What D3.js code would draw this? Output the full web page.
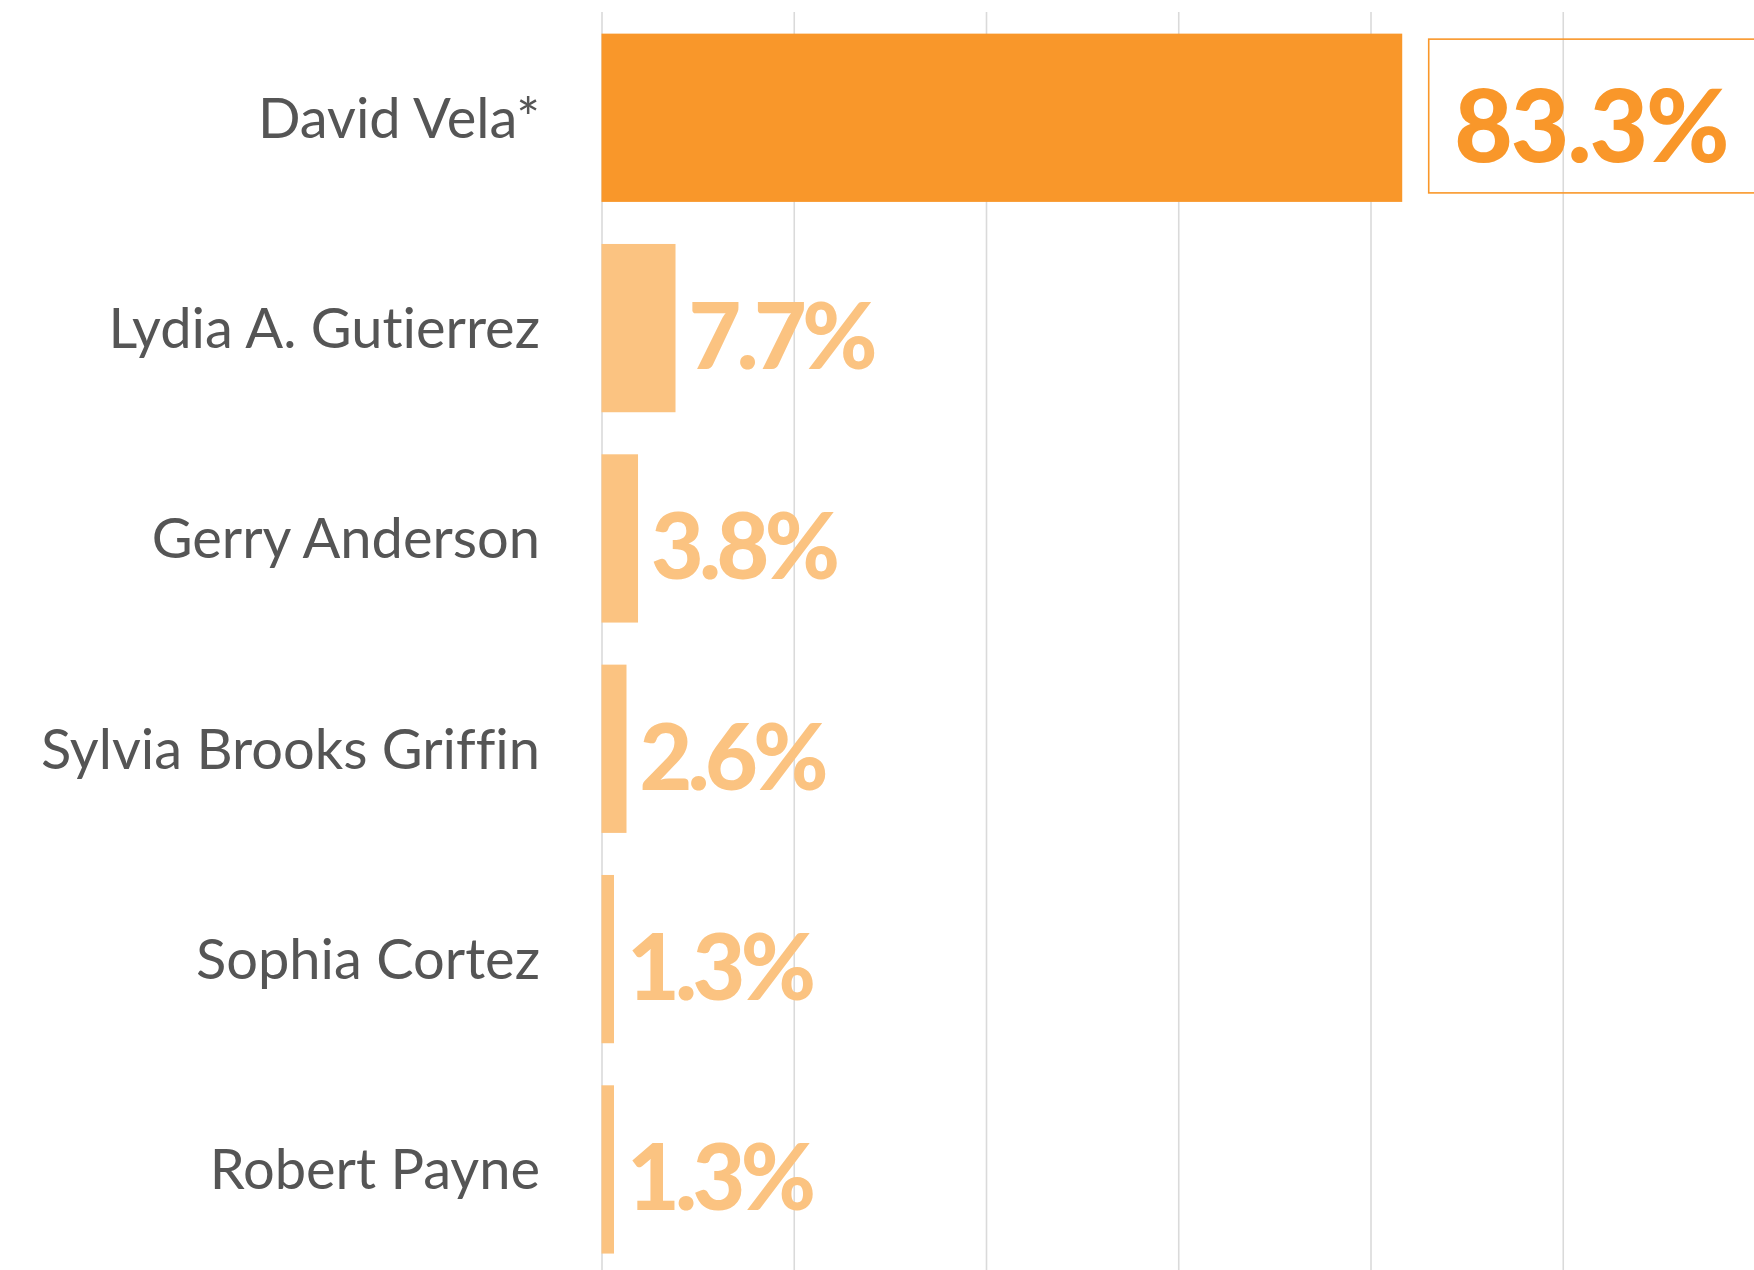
<!DOCTYPE html>
<html>
<head>
<meta charset="utf-8">
<script src="https://cdn.jsdelivr.net/npm/d3@7"></script>
<style>
  body { margin: 0; background: #fff; }
  svg { display: block; }
  .cat { font-family: Lato, "Open Sans", sans-serif; font-size: 56px; fill: #555; font-variant-ligatures: none; }
  .val { font-family: Lato, sans-serif; font-weight: 900; }
</style>
</head>
<body>
<svg id="chart" width="1754" height="1270"></svg>
<script>
// values
const candidates = ["David Vela*", "Lydia A. Gutierrez", "Gerry Anderson", "Sylvia Brooks Griffin", "Sophia Cortez", "Robert Payne"];
const shares = [83.3, 7.7, 3.8, 2.6, 1.3, 1.3];
const gridTicks = [0, 20, 40, 60, 80, 100];

const width = 1754, height = 1270;
const svg = d3.select("#chart");

const x = d3.scaleLinear().domain([0, 120]).range([601.5, 1755]);
const y = d3.scaleBand().domain(candidates).range([12.6, 1274.6])
    .paddingInner(0.2).paddingOuter(0.1);

// gridlines
const grid = svg.append("g")
    .attr("transform", `translate(0, ${height})`)
    .call(d3.axisTop(x).tickValues(gridTicks).tickSize(height - 12).tickFormat(""));
grid.select(".domain").remove();
grid.selectAll(".tick line").attr("stroke", "#dadada").attr("stroke-width", 1.6);

const rows = candidates.map((c, i) => ({ name: c, v: shares[i], lead: i === 0 }));

// bars
svg.selectAll(".bar").data(rows).enter().append("rect")
    .attr("class", "bar")
    .attr("x", x(0))
    .attr("y", d => y(d.name))
    .attr("width", d => x(d.v) - x(0))
    .attr("height", y.bandwidth())
    .attr("fill", d => d.lead ? "#f9972a" : "#fbc381");

// category labels
svg.selectAll(".cat").data(rows).enter().append("text")
    .attr("class", "cat")
    .attr("x", 540)
    .attr("y", d => y(d.name) + y.bandwidth() / 2 + 20)
    .attr("text-anchor", "end")
    .text(d => d.name);

// box around the leader's value
const lead = rows[0];
svg.append("rect")
    .attr("x", x(lead.v) + 26.5)
    .attr("y", y(lead.name) + 5.5)
    .attr("width", 400)
    .attr("height", y.bandwidth() - 14.5)
    .attr("fill", "none")
    .attr("stroke", "#f9972a")
    .attr("stroke-width", 1.6);

// value labels
svg.selectAll(".val").data(rows).enter().append("text")
    .attr("class", "val")
    .attr("x", d => d.lead ? x(d.v) + 52 : x(d.v) + 13)
    .attr("y", d => y(d.name) + y.bandwidth() / 2 + (d.lead ? 44 : 41))
    .attr("font-size", d => d.lead ? 101 : 91)
    .attr("letter-spacing", d => d.lead ? -2 : -4.5)
    .attr("fill", d => d.lead ? "#f9972a" : "#fbc381")
    .text(d => d.v.toFixed(1) + "%");
</script>
</body>
</html>
